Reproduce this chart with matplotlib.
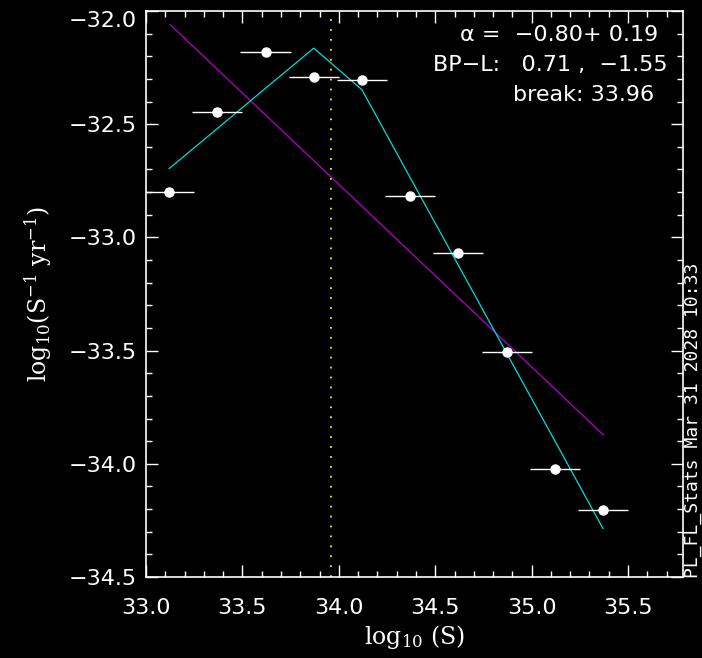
import matplotlib
matplotlib.use('Agg')
import matplotlib.pyplot as plt
from matplotlib.ticker import MultipleLocator

# binned rate data
log_s = [33.12, 33.37, 33.62, 33.87, 34.12, 34.37, 34.62, 34.87, 35.12, 35.37]
log_rate = [-32.80, -32.445, -32.18, -32.29, -32.305, -32.817, -33.067, -33.507, -34.023, -34.206]
bin_half = [0.13] * 10

# single power-law fit (end points)
pl_x = [33.125, 35.373]
pl_y = [-32.06, -33.873]

# broken power-law model evaluated at bin centres
bpl_y = [-32.696, -32.519, -32.341, -32.164, -32.348, -32.736, -33.123, -33.511, -33.898, -34.286]
break_x = 33.96

fit_lines = ["\u03b1 =  \u22120.80+ 0.19", "BP\u2212L:   0.71 ,  \u22121.55", "break: 33.96"]
stamp = "PL_FL_Stats Mar 31 2028 10:33"

plt.rcParams['font.family'] = ['DejaVu Sans']
plt.rcParams['mathtext.fontset'] = 'dejavuserif'

fig = plt.figure(figsize=(7.02, 6.58), dpi=100, facecolor='black')
ax = fig.add_axes([146 / 702, 1 - 577 / 658, (683 - 146) / 702, (577 - 11) / 658])
ax.set_facecolor('black')

# fits
ax.plot(pl_x, pl_y, color='#b400c8', lw=0.9, zorder=2)
ax.plot(log_s, bpl_y, color='#00dcdc', lw=0.9, zorder=2)
ax.axvline(break_x, color='#f0f000', lw=1.3, ls=(0, (1, 4.5)), zorder=1)

# data with x bins
ax.errorbar(log_s, log_rate, xerr=bin_half, fmt='o', color='white', ms=6.5,
            mec='white', elinewidth=1.0, capsize=0, zorder=3)

ax.set_xlim(33.0, 35.785)
ax.set_ylim(-34.5, -32.0)
ax.xaxis.set_major_locator(MultipleLocator(0.5))
ax.xaxis.set_minor_locator(MultipleLocator(0.1))
ax.yaxis.set_major_locator(MultipleLocator(0.5))
ax.yaxis.set_minor_locator(MultipleLocator(0.1))
ax.xaxis.set_major_formatter(lambda v, p: f"{v:.1f}")
ax.yaxis.set_major_formatter(lambda v, p: f"{v:.1f}".replace('-', '\u2212'))

for s in ax.spines.values():
    s.set_color('white')
    s.set_linewidth(1.2)
ax.tick_params(which='both', direction='in', top=True, right=True, colors='white',
               labelsize=16, width=1.0)
ax.tick_params(which='major', length=8.6)
ax.tick_params(which='minor', length=4.3)
ax.tick_params(axis='x', pad=15)
ax.tick_params(axis='y', pad=7)

ax.set_xlabel(r'log$_{10}$ (S)', color='white', fontsize=17, family='DejaVu Serif', labelpad=4)
ax.set_ylabel(r'log$_{10}$(S$^{-1}$ yr$^{-1}$)', color='white', fontsize=17,
              family='DejaVu Serif', labelpad=10)

# fit summary
ax.text(658 / 702, 1 - 35 / 658, fit_lines[0], transform=fig.transFigure,
        ha='right', va='center', color='white', fontsize=16)
ax.text(668 / 702, 1 - 65 / 658, fit_lines[1], transform=fig.transFigure,
        ha='right', va='center', color='white', fontsize=16)
ax.text(654 / 702, 1 - 95 / 658, fit_lines[2], transform=fig.transFigure,
        ha='right', va='center', color='white', fontsize=16)

fig.text(693 / 702, 1 - 578 / 658, stamp, rotation=90, ha='center', va='bottom',
         color='white', fontsize=13, family='DejaVu Sans Mono')

fig.canvas.draw()
ylabels = ax.get_yticklabels()
for lab in ylabels:
    if lab.get_text() == '\u221232.0':
        lab.set_va('top')

fig.savefig('out.png', dpi=100, facecolor='black')
